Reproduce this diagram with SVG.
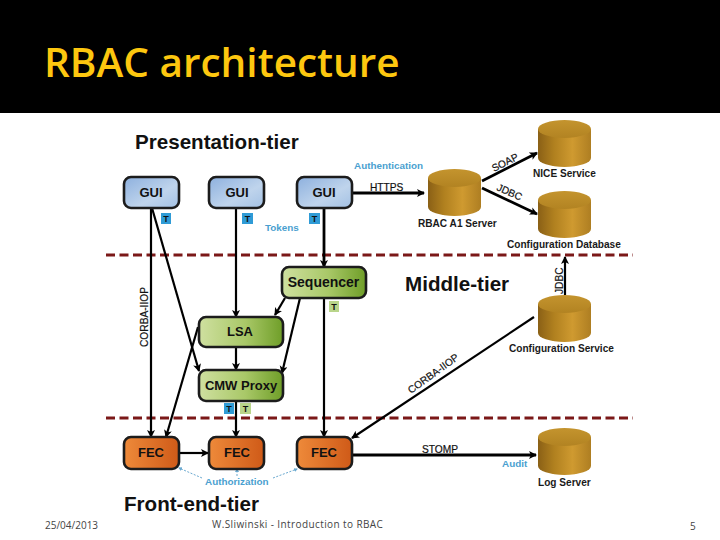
<svg xmlns="http://www.w3.org/2000/svg" xmlns:xlink="http://www.w3.org/1999/xlink" width="720" height="540" viewBox="0 0 720 540">
<style>
text{font-family:"Liberation Sans",Arial,sans-serif;fill:#111}
.node{stroke:#1c1c1c;stroke-width:2.6}
.nl{font-size:13px;font-weight:bold;text-anchor:middle}
.tier{font-size:20.6px;font-weight:bold}
.cap{font-size:10.100px;font-weight:bold;fill:#1a1a1a}
.conn{font-size:10.200px;fill:#111;stroke:#111;stroke-width:.2}
.blue{font-size:9.900px;fill:#4a9fd0;font-weight:bold}
.foot{font-family:"Open Sans",sans-serif;font-size:10px;fill:#444}
.a{fill:none;stroke:#000;stroke-width:2.2;marker-end:url(#ah)}
.b{fill:none;stroke:#000;stroke-width:2.8;marker-end:url(#ah2)}
.d{fill:none;stroke:#7b1818;stroke-width:3;stroke-dasharray:9 4.5}
.dot{fill:none;stroke:#6aa9d0;stroke-width:1;stroke-dasharray:2 1.5;marker-end:url(#ad)}
.tb{font-size:9px;font-weight:bold;text-anchor:middle}
</style>
<defs>
<marker id="ah" markerWidth="9" markerHeight="9" refX="7" refY="4" orient="auto" markerUnits="userSpaceOnUse"><path d="M0 0L8 4L0 8L2 4Z" fill="#000"/></marker>
<marker id="ah2" markerWidth="9" markerHeight="9" refX="7" refY="4" orient="auto" markerUnits="userSpaceOnUse"><path d="M0 0L8 4L0 8L2 4Z" fill="#000"/></marker>
<marker id="ad" markerWidth="5" markerHeight="5" refX="3" refY="2" orient="auto" markerUnits="userSpaceOnUse"><path d="M0 0L4 2L0 4Z" fill="#6aa9d0"/></marker>
<linearGradient id="gb" x1="0" y1="0" x2="1" y2="1"><stop offset="0" stop-color="#8db0de"/><stop offset=".6" stop-color="#bfd4ec"/><stop offset="1" stop-color="#a3c1e4"/></linearGradient>
<linearGradient id="gg" x1="0" y1="0" x2="1" y2="0"><stop offset="0" stop-color="#cfe0a0"/><stop offset=".55" stop-color="#a9c868"/><stop offset="1" stop-color="#6f9e28"/></linearGradient>
<linearGradient id="go" x1="0" y1="0" x2="1" y2="0"><stop offset="0" stop-color="#ee8a3a"/><stop offset="1" stop-color="#cf5a18"/></linearGradient>
<linearGradient id="gc" x1="0" y1="0" x2="1" y2="0"><stop offset="0" stop-color="#8a6016"/><stop offset=".3" stop-color="#b0801f"/><stop offset=".65" stop-color="#cf9a30"/><stop offset="1" stop-color="#ae7e22"/></linearGradient>
<linearGradient id="gt" x1="0" y1="0" x2="0" y2="1"><stop offset="0" stop-color="#c4942e"/><stop offset="1" stop-color="#b28322"/></linearGradient>
<g id="cyl"><path d="M0 9V38A26.5 9 0 0 0 53 38V9Z" fill="url(#gc)"/><ellipse cx="26.5" cy="9" rx="26.5" ry="9" fill="url(#gt)"/></g>
</defs>
<rect width="720" height="540" fill="#fff"/>
<rect width="720" height="113" fill="#000"/>
<text x="44" y="77" style="font-family:'Open Sans',sans-serif;font-size:40.500px;font-weight:600;fill:#fdc70f">RBAC architecture</text>
<text class="tier" x="135" y="149">Presentation-tier</text>
<text class="tier" x="405" y="291">Middle-tier</text>
<text class="tier" x="124" y="511">Front-end-tier</text>

<line class="d" x1="106" y1="255" x2="633" y2="255"/>
<line class="d" x1="106" y1="418" x2="633" y2="418"/>

<g id="connectors">
<path class="a" d="M151 208V437"/>
<path class="a" d="M152 208L199 371"/>
<path class="a" d="M198 327L166 437"/>
<path class="a" d="M236 208V317"/>
<path class="a" d="M236 347V370"/>
<path class="a" d="M236 401V437"/>
<path class="b" d="M324 208V267"/>
<path class="a" d="M324 298V437"/>
<path class="a" d="M285 298L275 315"/>
<path class="a" d="M300 298L282 373"/>
<path class="a" d="M179 453H208"/>
<path class="a" d="M534 317L352 438"/>
<path class="b" d="M352 193H424"/>
<path class="b" d="M482 181L537 153"/>
<path class="b" d="M482 188L537 214"/>
<path class="a" d="M565 295V257"/>
<path class="b" d="M352 455H536"/>
<path class="dot" d="M202 478L179 468"/>
<path class="dot" d="M237 476V469"/>
<path class="dot" d="M273 478L297 469"/>
</g>

<g id="gui1"><rect class="node" x="124" y="177" width="55" height="31" rx="7" fill="url(#gb)"/><text class="nl" x="151" y="197">GUI</text></g>
<g id="gui2"><rect class="node" x="209" y="177" width="55" height="31" rx="7" fill="url(#gb)"/><text class="nl" x="237" y="197">GUI</text></g>
<g id="gui3"><rect class="node" x="297" y="177" width="55" height="31" rx="7" fill="url(#gb)"/><text class="nl" x="324" y="197">GUI</text></g>
<g id="sequencer"><rect class="node" x="282" y="267" width="84" height="31" rx="7" fill="url(#gg)"/><text class="nl" style="font-size:14px" x="323.500" y="287">Sequencer</text></g>
<g id="lsa"><rect class="node" x="199" y="317" width="84" height="30" rx="7" fill="url(#gg)"/><text class="nl" x="240" y="336">LSA</text></g>
<g id="cmw"><rect class="node" x="199" y="370" width="84" height="31" rx="7" fill="url(#gg)"/><text class="nl" x="241" y="390">CMW Proxy</text></g>
<g id="fec1"><rect class="node" x="124" y="437" width="55" height="32" rx="7" fill="url(#go)"/><text class="nl" x="151" y="457">FEC</text></g>
<g id="fec2"><rect class="node" x="209" y="437" width="55" height="32" rx="7" fill="url(#go)"/><text class="nl" x="237" y="457">FEC</text></g>
<g id="fec3"><rect class="node" x="297" y="437" width="55" height="32" rx="7" fill="url(#go)"/><text class="nl" x="324" y="457">FEC</text></g>

<g id="t1"><rect x="161" y="213" width="10" height="11" fill="#2f9bd6"/><text class="tb" x="166" y="222">T</text></g>
<g id="t2"><rect x="242" y="213" width="11" height="11" fill="#2f9bd6"/><text class="tb" x="247.500" y="222">T</text></g>
<g id="t3"><rect x="309" y="213" width="11" height="11" fill="#2f9bd6"/><text class="tb" x="314.500" y="222">T</text></g>
<g id="t4"><rect x="329" y="301" width="10" height="11" fill="#b9d58a"/><text class="tb" x="334" y="310">T</text></g>
<g id="t5"><rect x="224" y="403" width="10" height="11" fill="#2f9bd6"/><text class="tb" x="229" y="412">T</text></g>
<g id="t6"><rect x="240" y="403" width="11" height="11" fill="#b9d58a"/><text class="tb" x="245.500" y="412">T</text></g>

<g id="rbac"><use href="#cyl" x="428" y="169"/><text class="cap" x="418" y="227">RBAC A1 Server</text></g>
<g id="nice"><use href="#cyl" x="538" y="120"/><text class="cap" x="533" y="177">NICE Service</text></g>
<g id="configdb"><use href="#cyl" x="538" y="191"/><text class="cap" x="507" y="248">Configuration Database</text></g>
<g id="configsvc"><use href="#cyl" x="538" y="295"/><text class="cap" x="509" y="352">Configuration Service</text></g>
<g id="log"><use href="#cyl" x="538" y="428"/><text class="cap" x="538" y="486">Log Server</text></g>

<text class="blue" x="354" y="169">Authentication</text>
<text class="blue" x="265" y="231">Tokens</text>
<text class="blue" x="205" y="485">Authorization</text>
<text class="blue" x="502" y="467">Audit</text>
<text class="conn" x="370" y="191">HTTPS</text>
<text class="conn" x="422" y="453">STOMP</text>
<text class="conn" transform="translate(494 172) rotate(-27)">SOAP</text>
<text class="conn" transform="translate(496 190) rotate(24)">JDBC</text>
<text class="conn" transform="translate(148 347) rotate(-90)">CORBA-IIOP</text>
<text class="conn" transform="translate(563 294) rotate(-90)">JDBC</text>
<text class="conn" transform="translate(411 394) rotate(-36)">CORBA-IIOP</text>

<text class="foot" x="45" y="529">25/04/2013</text>
<text class="foot" style="letter-spacing:.4px" x="212" y="528">W.Sliwinski - Introduction to RBAC</text>
<text class="foot" x="690" y="530">5</text>
</svg>
